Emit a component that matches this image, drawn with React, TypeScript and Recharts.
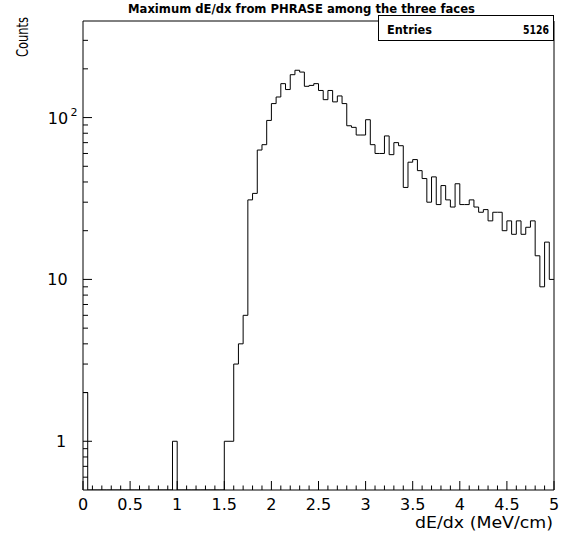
import React from 'react';
import { LineChart, Line, XAxis, YAxis, ReferenceArea } from 'recharts';

// ---- data ----
const BIN_WIDTH = 0.05;
const X_MIN = 0;
const X_MAX = 5;
const Y_MIN = 0.5;
const Y_MAX = 395;

// histogram counts, 100 bins of 0.05 MeV/cm from 0 to 5
const counts: number[] = [
  2, 0, 0, 0, 0, 0, 0, 0, 0, 0,
  0, 0, 0, 0, 0, 0, 0, 0, 0, 1,
  0, 0, 0, 0, 0, 0, 0, 0, 0, 0,
  1, 1, 3, 4, 6, 31, 34, 63, 68, 96,
  122, 134, 162, 149, 184, 196, 191, 156, 158, 162,
  147, 129, 147, 125, 136, 122, 89, 87, 78, 78,
  97, 68, 60, 60, 77, 59, 70, 67, 37, 53,
  55, 47, 42, 30, 43, 29, 38, 31, 28, 39,
  29, 29, 31, 28, 26, 27, 23, 26, 26, 20,
  23, 19, 23, 19, 21, 23, 14, 9, 17, 10,
];

const xMajorTicks: number[] = [0, 0.5, 1, 1.5, 2, 2.5, 3, 3.5, 4, 4.5, 5];
const xTickLabels: string[] = ['0', '0.5', '1', '1.5', '2', '2.5', '3', '3.5', '4', '4.5', '5'];
const xMinorTicks: number[] = [
  0.1, 0.2, 0.3, 0.4, 0.6, 0.7, 0.8, 0.9, 1.1, 1.2, 1.3, 1.4, 1.6, 1.7, 1.8, 1.9,
  2.1, 2.2, 2.3, 2.4, 2.6, 2.7, 2.8, 2.9, 3.1, 3.2, 3.3, 3.4, 3.6, 3.7, 3.8, 3.9,
  4.1, 4.2, 4.3, 4.4, 4.6, 4.7, 4.8, 4.9,
];
const yMajorTicks: number[] = [1, 10, 100];
const yMinorTicks: number[] = [
  0.6, 0.7, 0.8, 0.9, 2, 3, 4, 5, 6, 7, 8, 9, 20, 30, 40, 50, 60, 70, 80, 90, 200, 300,
];

const TITLE = 'Maximum dE/dx from PHRASE among the three faces';
const X_LABEL = 'dE/dx (MeV/cm)';
const Y_LABEL = 'Counts';
const ENTRIES = 5126;

// ---- derived table ----
const data = [
  ...counts.map((c, i) => ({ x: +(i * BIN_WIDTH).toFixed(2), y: Math.max(c, Y_MIN) })),
  { x: X_MAX, y: Math.max(counts[counts.length - 1], Y_MIN) },
];

const FONT = '"DejaVu Sans", sans-serif';
const W = 563;
const H = 537;

const isMajor = (v: number, arr: number[]) => arr.some((m) => Math.abs(m - v) < 1e-6);

const XTick = (props: any) => {
  const { x, y, payload } = props;
  const v = payload.value as number;
  const major = isMajor(v, xMajorTicks);
  const idx = xMajorTicks.findIndex((m) => Math.abs(m - v) < 1e-6);
  return (
    <g>
      <line x1={x} x2={x} y1={y} y2={y - (major ? 9 : 4.5)} stroke="#000" strokeWidth={1} />
      {major && (
        <text x={x} y={y + 20} textAnchor="middle" fontFamily={FONT} fontSize={16} fill="#000">
          {xTickLabels[idx]}
        </text>
      )}
    </g>
  );
};

const YTick = (props: any) => {
  const { x, y, payload } = props;
  const v = payload.value as number;
  const major = isMajor(v, yMajorTicks);
  let label: React.ReactNode = null;
  if (major) {
    if (v === 100) {
      label = (
        <g>
          <text x={x - 25} y={y + 6} textAnchor="middle" fontFamily={FONT} fontSize={16} fill="#000">10</text>
          <text x={x - 9} y={y - 2} textAnchor="middle" fontFamily={FONT} fontSize={11} fill="#000">2</text>
        </g>
      );
    } else {
      label = (
        <text x={v === 1 ? x - 22 : x - 25.5} y={y + 6} textAnchor="middle" fontFamily={FONT} fontSize={16} fill="#000">
          {String(v)}
        </text>
      );
    }
  }
  return (
    <g>
      <line x1={x} x2={x + (major ? 9 : 5)} y1={y} y2={y} stroke="#000" strokeWidth={1} />
      {label}
    </g>
  );
};

export default function App() {
  const xTicks = [...xMajorTicks, ...xMinorTicks].sort((a, b) => a - b);
  const yTicks = [...yMajorTicks, ...yMinorTicks].sort((a, b) => a - b);
  return (
    <div style={{ position: 'absolute', left: 0, top: 0, width: W, height: H, background: '#fff' }}>
      <LineChart width={W} height={H} data={data} margin={{ top: 21, right: 9, left: 0, bottom: 0 }}>
        <XAxis
          type="number"
          dataKey="x"
          domain={[X_MIN, X_MAX]}
          ticks={xTicks}
          interval={0}
          tickSize={0}
          tickMargin={0}
          axisLine={false}
          tickLine={false}
          tick={<XTick />}
          height={47}
          allowDataOverflow
        />
        <YAxis
          type="number"
          scale="log"
          domain={[Y_MIN, Y_MAX]}
          ticks={yTicks}
          interval={0}
          tickSize={0}
          tickMargin={0}
          axisLine={false}
          tickLine={false}
          tick={<YTick />}
          width={83}
          allowDataOverflow
        />
        <ReferenceArea x1={X_MIN} x2={X_MAX} y1={Y_MIN} y2={Y_MAX} fill="none" stroke="#000" strokeWidth={1} />
        <Line
          type="stepAfter"
          dataKey="y"
          stroke="#000"
          strokeWidth={1}
          dot={false}
          activeDot={false}
          isAnimationActive={false}
        />
      </LineChart>
      <svg width={W} height={H} style={{ position: 'absolute', left: 0, top: 0, pointerEvents: 'none' }}>
        <text x={128} y={13} fontFamily={FONT} fontSize={11.5} fontWeight="bold" textLength={347} lengthAdjust="spacingAndGlyphs" fill="#000">
          {TITLE}
        </text>
        <rect x={378.5} y={15.5} width={175} height={25} fill="#fff" stroke="#000" strokeWidth={1} />
        <text x={387} y={34} fontFamily={FONT} fontSize={13} fontWeight="bold" textLength={45} lengthAdjust="spacingAndGlyphs" fill="#000">
          Entries
        </text>
        <text x={523} y={34} fontFamily={FONT} fontSize={13} fontWeight="bold" textLength={26} lengthAdjust="spacingAndGlyphs" fill="#000">
          {String(ENTRIES)}
        </text>
        <text
          x={0}
          y={0}
          transform="translate(28,57) rotate(-90)"
          fontFamily={FONT}
          fontSize={16}
          textLength={40}
          lengthAdjust="spacingAndGlyphs"
          fill="#000"
        >
          {Y_LABEL}
        </text>
        <text x={415} y={528} fontFamily={FONT} fontSize={16} textLength={138} lengthAdjust="spacingAndGlyphs" fill="#000">
          {X_LABEL}
        </text>
      </svg>
    </div>
  );
}
